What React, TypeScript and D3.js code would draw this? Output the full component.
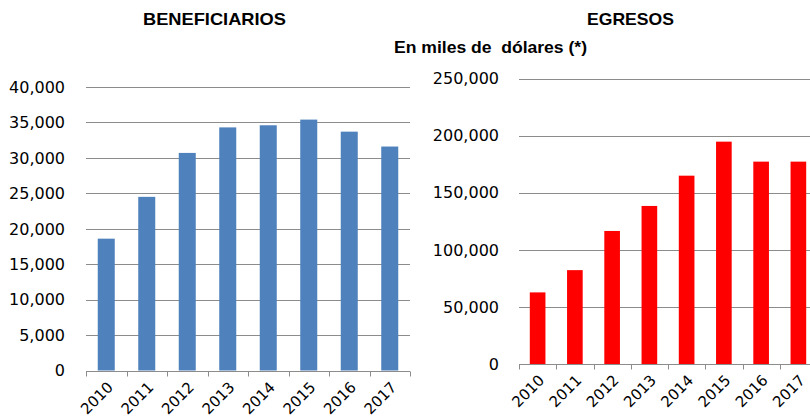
import React, { useEffect, useRef } from "react";
import * as d3 from "d3";

const years = ["2010", "2011", "2012", "2013", "2014", "2015", "2016", "2017"];
const beneficiarios = [18600, 24500, 30700, 34300, 34600, 35400, 33700, 31600];
const egresos = [62700, 82200, 116500, 138400, 164900, 194700, 177200, 177200];
const leftTicks = [0, 5000, 10000, 15000, 20000, 25000, 30000, 35000, 40000];
const rightTicks = [0, 50000, 100000, 150000, 200000, 250000];

const W = 810;
const H = 417;
const fmt = d3.format(",");
const NUM_FONT = "DejaVu Sans, Verdana, sans-serif";
const TITLE_FONT = "Liberation Sans, Arial, sans-serif";

export default function App() {
  const ref = useRef<SVGSVGElement>(null);

  useEffect(() => {
    const svg = d3.select(ref.current);
    svg.selectAll("*").remove();

    const drawPanel = (
      opts: {
        x0: number; x1: number; yTop: number; yBottom: number;
        max: number; ticks: number[]; values: number[]; color: string;
        labelRight: number;
      }
    ) => {
      const g = svg.append("g");
      const x = d3.scaleBand().domain(years).range([opts.x0, opts.x1]).paddingInner(0.58).paddingOuter(0.29);
      const xb = d3.scaleBand().domain(years).range([opts.x0, opts.x1]);
      const y = d3.scaleLinear().domain([0, opts.max]).range([opts.yBottom, opts.yTop]);

      g.selectAll("line.grid")
        .data(opts.ticks.filter((t) => t > 0))
        .enter()
        .append("line")
        .attr("x1", opts.x0)
        .attr("x2", opts.x1)
        .attr("y1", (d) => Math.round(y(d)) + 0.5)
        .attr("y2", (d) => Math.round(y(d)) + 0.5)
        .attr("stroke", "#8c8c8c")
        .attr("stroke-width", 1);

      g.selectAll("text.yl")
        .data(opts.ticks)
        .enter()
        .append("text")
        .attr("x", opts.labelRight)
        .attr("y", (d) => y(d))
        .attr("dy", "0.36em")
        .attr("text-anchor", "end")
        .attr("font-family", NUM_FONT)
        .attr("font-size", 16)
        .attr("fill", "#000")
        .text((d) => fmt(d));

      g.selectAll("rect.bar")
        .data(opts.values)
        .enter()
        .append("rect")
        .attr("x", (_, i) => x(years[i])!)
        .attr("width", x.bandwidth())
        .attr("y", (d) => y(d))
        .attr("height", (d) => y(0) - y(d))
        .attr("fill", opts.color);

      const yb = Math.round(y(0)) + 0.5;
      g.append("line")
        .attr("x1", opts.x0)
        .attr("x2", opts.x1)
        .attr("y1", yb)
        .attr("y2", yb)
        .attr("stroke", "#8c8c8c");

      const bounds = years.map((yr) => xb(yr)!).concat([opts.x1]);
      g.selectAll("line.tick")
        .data(bounds)
        .enter()
        .append("line")
        .attr("x1", (d) => Math.round(d) + 0.5)
        .attr("x2", (d) => Math.round(d) + 0.5)
        .attr("y1", yb)
        .attr("y2", yb + 5)
        .attr("stroke", "#8c8c8c");

      g.selectAll("text.xl")
        .data(years)
        .enter()
        .append("text")
        .attr("transform", (d) => {
          const cx = xb(d)! + xb.bandwidth() / 2 + 4;
          return `translate(${cx},${yb + 13}) rotate(-45)`;
        })
        .attr("text-anchor", "end")
        .attr("dy", "0.35em")
        .attr("font-family", NUM_FONT)
        .attr("font-size", 15)
        .attr("fill", "#000")
        .text((d) => d);
    };

    drawPanel({
      x0: 86, x1: 410, yTop: 87, yBottom: 370.5, max: 40000,
      ticks: leftTicks, values: beneficiarios, color: "#4f81bd", labelRight: 65,
    });
    drawPanel({
      x0: 519, x1: 817, yTop: 78.5, yBottom: 364, max: 250000,
      ticks: rightTicks, values: egresos, color: "#ff0000", labelRight: 499,
    });

    svg.append("text")
      .attr("x", 143).attr("y", 25)
      .attr("font-family", TITLE_FONT)
      .attr("font-weight", "bold")
      .attr("font-size", 17)
      .attr("textLength", 143)
      .attr("lengthAdjust", "spacingAndGlyphs")
      .text("BENEFICIARIOS");
    svg.append("text")
      .attr("x", 587).attr("y", 25)
      .attr("font-family", TITLE_FONT)
      .attr("font-weight", "bold")
      .attr("font-size", 17)
      .attr("textLength", 87)
      .attr("lengthAdjust", "spacingAndGlyphs")
      .text("EGRESOS");
    svg.append("text")
      .attr("x", 394).attr("y", 53)
      .attr("font-family", TITLE_FONT)
      .attr("font-weight", "bold")
      .attr("font-size", 16)
      .attr("textLength", 193)
      .attr("lengthAdjust", "spacingAndGlyphs")
      .style("white-space", "pre")
      .text("En miles de  dólares (*)");
  }, []);

  return (
    <svg
      ref={ref}
      width={W}
      height={H}
      style={{ position: "absolute", left: 0, top: 0, background: "#fff", display: "block" }}
    />
  );
}
